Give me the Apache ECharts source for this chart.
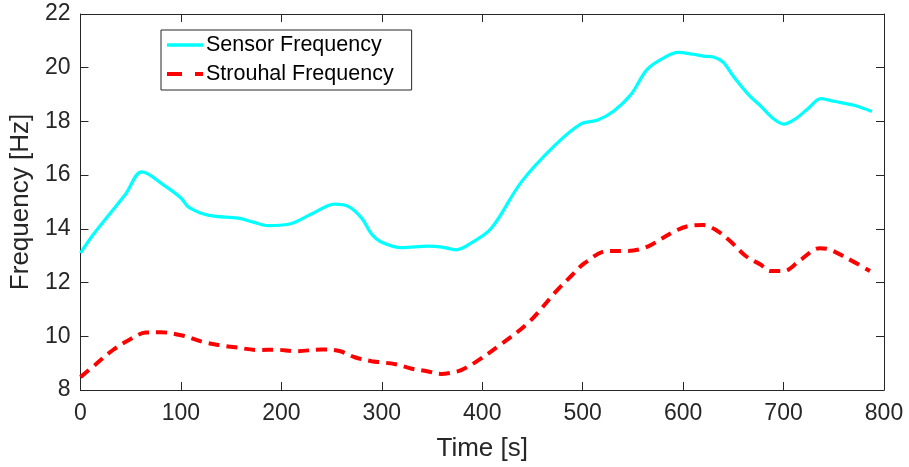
<!DOCTYPE html>
<html>
<head>
<meta charset="utf-8">
<script src="https://cdn.jsdelivr.net/npm/echarts@6/dist/echarts.min.js"></script>
<style>
html,body{margin:0;padding:0;background:#fff;}
#chart{width:909px;height:467px;}
</style>
</head>
<body>
<div id="chart"></div>
<script>
const sensorTime = [0,12,30,45,61,84,100,108,128,157,172,187,207,230,253,267,280,290,300,320,346,360,374,390,409,439,472,498,515,531,548,564,580,595,610,620,630,640,650,665,677,690,700,712,725,737,750,770,788];
const sensorFreq = [13.1,13.75,14.6,15.3,16.12,15.6,15.15,14.8,14.5,14.4,14.25,14.12,14.17,14.55,14.92,14.83,14.4,13.8,13.5,13.3,13.36,13.32,13.22,13.5,14.02,15.75,17.1,17.9,18.05,18.39,19.0,19.93,20.35,20.57,20.5,20.43,20.4,20.2,19.68,19.0,18.58,18.1,17.9,18.1,18.5,18.85,18.75,18.6,18.37];
const strouhalTime = [0,15,32,50,65,80,101,124,140,154,177,195,214,240,258,273,290,300,315,330,345,359,370,379,393,417,446,474,490,502,525,545,558,568,591,605,620,633,647,662,677,687,700,717,736,743,763,786];
const strouhalFreq = [8.48,8.95,9.48,9.9,10.14,10.15,10.03,9.77,9.66,9.59,9.49,9.5,9.44,9.51,9.45,9.22,9.07,9.03,8.95,8.79,8.7,8.6,8.65,8.74,9.03,9.66,10.51,11.69,12.3,12.73,13.18,13.18,13.25,13.4,13.9,14.1,14.14,13.95,13.54,13.0,12.67,12.43,12.43,12.85,13.28,13.26,12.91,12.43];
const seriesNames = ['Sensor Frequency','Strouhal Frequency'];
const xTitle = 'Time [s]';
const yTitle = 'Frequency [Hz]';

const FONT = '"Liberation Sans", Arial, Helvetica, sans-serif';
const AX = '#262626';
const chart = echarts.init(document.getElementById('chart'), null, {renderer:'canvas'});
const pair = (t, v) => t.map((x, i) => [x, v[i]]);

const axisCommon = {
  axisLine:{show:true, onZero:false, lineStyle:{color:AX, width:1}},
  axisTick:{show:true, inside:true, length:8, lineStyle:{color:AX, width:1}},
  splitLine:{show:false}
};

chart.setOption({
  backgroundColor:'#fff',
  animation:false,
  grid:{left:78, right:25, top:14, bottom:74, containLabel:false},
  xAxis:[
    Object.assign({type:'value', position:'bottom', min:0, max:800, interval:100,
      name:xTitle, nameLocation:'middle', nameGap:46,
      nameTextStyle:{fontFamily:FONT, fontSize:26, color:AX},
      axisLabel:{fontFamily:FONT, fontSize:23, color:AX, margin:12}}, axisCommon),
    Object.assign({type:'value', position:'top', min:0, max:800, interval:100,
      axisLabel:{show:false}}, axisCommon)
  ],
  yAxis:[
    Object.assign({type:'value', position:'left', min:8, max:22, interval:2,
      name:yTitle, nameLocation:'middle', nameGap:39,
      nameTextStyle:{fontFamily:FONT, fontSize:26, color:AX},
      axisLabel:{fontFamily:FONT, fontSize:23, color:AX, margin:10}}, axisCommon),
    Object.assign({type:'value', position:'right', min:8, max:22, interval:2,
      axisLabel:{show:false}}, axisCommon)
  ],
  legend:{
    orient:'vertical', left:161, top:30,
    backgroundColor:'#fff', borderColor:AX, borderWidth:1, borderRadius:0,
    padding:[3,18,4,6], itemGap:5, itemWidth:36, itemHeight:4,
    textStyle:{fontFamily:FONT, fontSize:21.5, color:'#000', lineHeight:24, padding:[0,0,0,-2]},
    data:[
      {name:seriesNames[0], icon:'path://M0,0H36V3.4H0Z'},
      {name:seriesNames[1], icon:'path://M0,0H15V4H0Z M28,0H36V4H28Z'}
    ]
  },
  series:[
    {name:seriesNames[0], type:'line', data:pair(sensorTime, sensorFreq), smooth:0.35,
      showSymbol:false, symbol:'none', lineStyle:{color:'#00FFFF', width:3.2}, itemStyle:{color:'#00FFFF'}},
    {name:seriesNames[1], type:'line', data:pair(strouhalTime, strouhalFreq), smooth:0.35,
      showSymbol:false, symbol:'none', lineStyle:{color:'#FF0000', width:4, type:[11,7]}, itemStyle:{color:'#FF0000'}}
  ]
});
</script>
</body>
</html>
